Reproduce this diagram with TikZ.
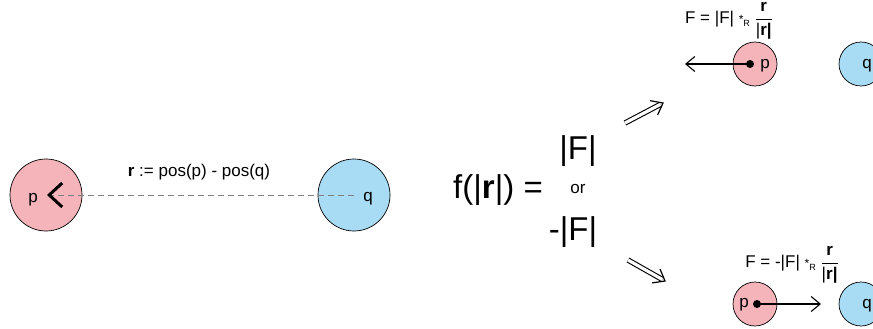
\documentclass[tikz,border=0pt]{standalone}
\usepackage{amsmath}
\usepackage{fontspec}
\setmainfont{Liberation Sans}
\usetikzlibrary{arrows.meta, calc}
\definecolor{ppink}{HTML}{F4B4BA}
\definecolor{qblue}{HTML}{A8DCF4}
\newcommand{\fsz}[1]{\fontsize{#1}{#1}\selectfont}
\newcommand{\rfrac}{$\dfrac{\text{\bfseries r}}{\text{|\bfseries r|}}$}
\newcommand{\starR}{{\fsz{12}*}\raisebox{-3pt}{\fsz{9}R}}
\tikzset{
  ball/.style={circle, draw=black, line width=0.7pt, inner sep=0pt},
  pball/.style={ball, fill=ppink},
  qball/.style={ball, fill=qblue},
  lbl/.style={inner sep=0pt, font=\fsz{17}},
  force/.style={line width=1.1pt, -{Straight Barb[length=9pt, width=15pt, line width=1.1pt]}},
  implshaft/.style={double, double distance=3.2pt, line width=1.1pt},
  implhead/.style={line width=1.2pt, line join=miter}
}
\begin{document}
\begin{tikzpicture}[x=1pt, y=-1pt]
  \useasboundingbox (0,0) rectangle (873,329);

  % left: the pair and r
  \node[pball, minimum size=72pt] (pbig) at (46,195) {};
  \node[qball, minimum size=72pt] (qbig) at (354,195) {};
  \node[lbl] (plbl) at (33,200) {p};
  \node[lbl] (qlbl) at (368,199) {q};
  \coordinate (ptip) at (47,195);
  \draw[gray, line width=0.7pt, dash pattern=on 6pt off 4pt,
        -{Straight Barb[length=13pt, width=24pt, line width=3pt, black]}] (qbig.center) -- (ptip);
  \node[lbl] (rdef) at (199,172) {\textbf{r} := pos(p) - pos(q)};

  % middle: f(|r|)
  \node[lbl, font=\fsz{33}] (fr) at (498,190) {f(|\textbf{r}|) =};
  \node[lbl, font=\fsz{33}] (pos) at (578,151) {|F|};
  \node[lbl] (or) at (578,189) {or};
  \node[lbl, font=\fsz{33}] (neg) at (573,232) {-|F|};

  % implication arrows
  \coordinate (ua) at (625,123);
  \coordinate (ub) at (663,103);
  \coordinate (la) at (628,260);
  \coordinate (lb) at (665,281);
  \draw[implshaft] (ua) -- ($(ub)!3pt!(ua)$);
  \draw[implhead] ($(ub)!13pt!38:(ua)$) -- (ub) -- ($(ub)!13pt!-38:(ua)$);
  \draw[implshaft] (la) -- ($(lb)!3pt!(la)$);
  \draw[implhead] ($(lb)!13pt!38:(la)$) -- (lb) -- ($(lb)!13pt!-38:(la)$);

  % top right: attraction
  \node[pball, minimum size=44pt] (ptop) at (755,64) {};
  \node[qball, minimum size=44pt] (qtop) at (861,64) {};
  \node[lbl] (ptoplbl) at (765,66) {p};
  \node[lbl] (qtoplbl) at (867,66) {q};
  \fill (750,64) circle (4pt) coordinate (dtop);
  \coordinate (ftop) at (685,64);
  \draw[force] (dtop) -- (ftop);
  \node[lbl] (Ftop) at (729,21) {F = |F| \starR\ \rfrac};

  % bottom right: repulsion
  \node[pball, minimum size=44pt] (pbot) at (755,304) {};
  \node[qball, minimum size=44pt] (qbot) at (861,304) {};
  \node[lbl] (pbotlbl) at (744,305) {p};
  \node[lbl] (qbotlbl) at (867,306) {q};
  \fill (757,304) circle (4pt) coordinate (dbot);
  \coordinate (fbot) at (821,304);
  \draw[force] (dbot) -- (fbot);
  \node[lbl] (Fbot) at (792,265) {F = -|F| \starR\ \rfrac};
\end{tikzpicture}
\end{document}
